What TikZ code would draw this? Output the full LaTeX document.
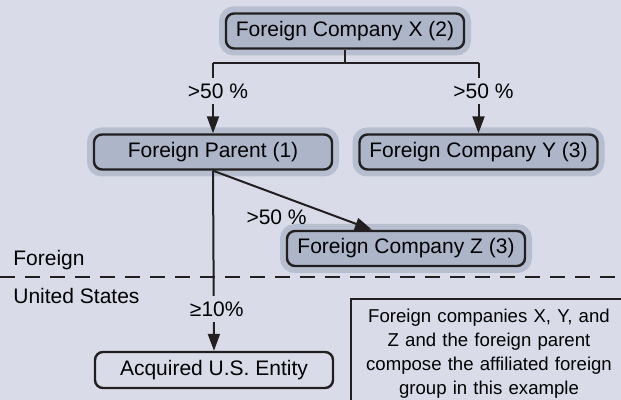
\documentclass[tikz,border=0pt]{standalone}
\usepackage{fontspec}
\setmainfont{Liberation Sans}
\usetikzlibrary{arrows.meta}
\definecolor{paper}{RGB}{217,220,232}
\definecolor{boxfill}{RGB}{173,181,201}
\definecolor{halo}{RGB}{182,190,208}
\definecolor{ink}{RGB}{35,31,32}
\tikzset{
    firm/.style={draw=ink,line width=1.2pt,rounded corners=4pt,fill=boxfill,minimum width=119pt,minimum height=17.5pt,inner sep=0pt,font=\fontsize{10.5}{12}\selectfont,preaction={draw=halo,line width=7pt}},
    plainfirm/.style={draw=ink,line width=1.2pt,rounded corners=4pt,minimum width=119pt,minimum height=18pt,inner sep=0pt,font=\fontsize{10.5}{12}\selectfont},
    pct/.style={fill=paper,inner sep=2.8pt,font=\fontsize{10.5}{12}\selectfont},
    own/.style={draw=ink,line width=1pt,-{Triangle[length=8.5pt,width=6pt]}},
    side/.style={anchor=base west,inner sep=0pt,font=\fontsize{10.5}{12}\selectfont},
    note/.style={draw=ink,line width=1pt,fill=paper,anchor=north west,text width=126pt,inner xsep=6pt,inner ysep=5pt,align=center,font=\fontsize{9.3}{12}\selectfont},
}

\begin{document}
\begin{tikzpicture}[x=0.5pt,y=-0.5pt]
\fill[paper] (0,0) rectangle (621,400);
\useasboundingbox (0,0) rectangle (621,400);
\node[firm] (coX) at (345,31) {Foreign Company X (2)};
\node[firm] (parent) at (213,152) {Foreign Parent (1)};
\node[firm] (coY) at (478.5,152) {Foreign Company Y (3)};
\node[firm] (coZ) at (406,248.5) {Foreign Company Z (3)};
\node[plainfirm] (usent) at (214,370) {Acquired U.S. Entity};
\draw[ink,line width=0.75pt,dash pattern=on 7.5pt off 5pt] (0,277) -- (621,277);
\node[side] (forlbl) at (13,266) {Foreign};
\node[side] (uslbl) at (13,304) {United States};
\draw[ink,line width=1pt] (coX.south) -- ++(0,13) coordinate (split);
\draw[ink,line width=1pt] (split -| parent.north) -- (split -| coY.north);
\draw[own] (split -| parent.north) -- node[pct,pos=0.4,xshift=2.5pt]{>50 \%} (parent.north);
\draw[own] (split -| coY.north) -- node[pct,pos=0.4,xshift=2.5pt]{>50 \%} (coY.north);
\draw[own] (parent.south) -- node[pos=0.4,below=7.2pt,inner sep=0pt,font=\fontsize{10.5}{12}\selectfont]{>50 \%} ([xshift=-17pt]coZ.north);
\draw[own] (parent.south) -- node[pct,pos=0.77,xshift=1.5pt]{≥10\%} (usent.north);
\node[note] (group) at (350,298) {Foreign companies X, Y, and\\Z and the foreign parent\\compose the affiliated foreign\\group in this example};
\end{tikzpicture}
\end{document}
